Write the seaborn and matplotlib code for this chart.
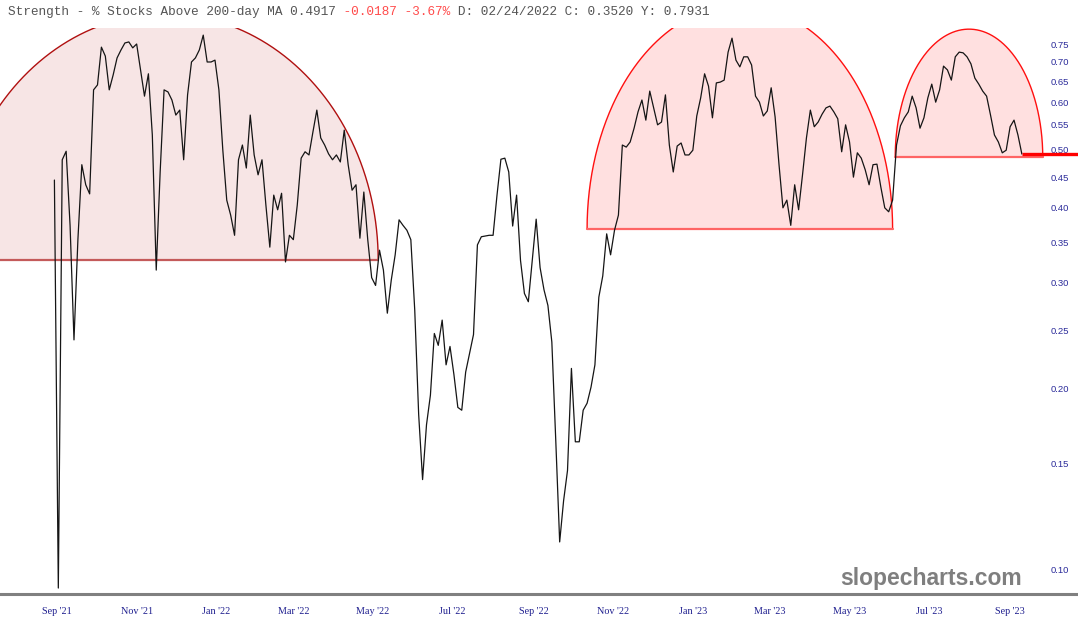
import matplotlib
matplotlib.use("Agg")
import matplotlib.pyplot as plt
import matplotlib.dates as mdates
from matplotlib.ticker import FixedLocator, FormatStrFormatter, NullLocator
import seaborn as sns
import numpy as np
import pandas as pd

# % of stocks above their 200-day MA, every 3 days from 2021-08-30
values = [
    0.445, 0.093, 0.481, 0.497, 0.374, 0.241, 0.354, 0.472, 0.437, 0.422,
    0.629, 0.641, 0.741, 0.716, 0.629, 0.666, 0.711, 0.733, 0.753, 0.756,
    0.739, 0.750, 0.679, 0.614, 0.669, 0.529, 0.315, 0.459, 0.629, 0.624,
    0.605, 0.571, 0.582, 0.481, 0.617, 0.700, 0.711, 0.733, 0.776, 0.700,
    0.700, 0.705, 0.629, 0.499, 0.412, 0.389, 0.360, 0.481, 0.509, 0.466,
    0.571, 0.490, 0.454, 0.481, 0.404, 0.344, 0.420, 0.397, 0.423, 0.325,
    0.360, 0.354, 0.404, 0.484, 0.496, 0.490, 0.535, 0.582, 0.523, 0.509,
    0.492, 0.481, 0.490, 0.477, 0.539, 0.472, 0.428, 0.437, 0.356, 0.425,
    0.354, 0.306, 0.297, 0.340, 0.315, 0.267, 0.303, 0.334, 0.382, 0.374,
    0.367, 0.354, 0.270, 0.181, 0.141, 0.174, 0.195, 0.247, 0.236, 0.260,
    0.219, 0.235, 0.211, 0.186, 0.184, 0.213, 0.229, 0.246, 0.347, 0.358,
    0.359, 0.360, 0.360, 0.420, 0.482, 0.484, 0.459, 0.373, 0.420, 0.327,
    0.288, 0.279, 0.327, 0.383, 0.318, 0.292, 0.275, 0.239, 0.164, 0.111,
    0.130, 0.146, 0.216, 0.163, 0.163, 0.184, 0.189, 0.201, 0.219, 0.284,
    0.308, 0.362, 0.334, 0.367, 0.389, 0.509, 0.505, 0.515, 0.543, 0.578,
    0.605, 0.560, 0.626, 0.587, 0.550, 0.556, 0.617, 0.509, 0.459, 0.507,
    0.513, 0.490, 0.490, 0.499, 0.569, 0.610, 0.669, 0.638, 0.565, 0.646,
    0.648, 0.653, 0.727, 0.767, 0.705, 0.687, 0.714, 0.714, 0.692, 0.614,
    0.600, 0.569, 0.580, 0.634, 0.567, 0.472, 0.400, 0.412, 0.374, 0.437,
    0.397, 0.454, 0.523, 0.582, 0.546, 0.556, 0.573, 0.587, 0.591, 0.578,
    0.563, 0.496, 0.550, 0.515, 0.450, 0.494, 0.484, 0.463, 0.437, 0.472,
    0.473, 0.433, 0.400, 0.394, 0.412, 0.509, 0.548, 0.565, 0.578, 0.614,
    0.587, 0.543, 0.565, 0.610, 0.643, 0.600, 0.629, 0.689, 0.679, 0.653,
    0.714, 0.727, 0.725, 0.714, 0.695, 0.658, 0.643, 0.626, 0.614, 0.571,
    0.529, 0.515, 0.494, 0.499, 0.546, 0.560, 0.529, 0.4917,
]
dates = pd.date_range("2021-08-30", periods=len(values), freq="3D")

# half-ellipse "domes": start, end, base level, crown level
arc_start = ["2021-06-13", "2022-10-12", "2023-06-05"]
arc_end = ["2022-05-05", "2023-06-03", "2023-09-26"]
arc_base = [0.327, 0.369, 0.486]
arc_peak = [0.842, 0.870, 0.794]
arc_edge = ["#b01010", "#ff1010", "#ff1010"]
arc_fill = [(0.72, 0.0, 0.0, 0.10), (1.0, 0.0, 0.0, 0.12), (1.0, 0.0, 0.0, 0.12)]
arc_baseline = ["#c45a5a", "#ff6464", "#ff6464"]

y_ticks = [0.10, 0.15, 0.20, 0.25, 0.30, 0.35, 0.40, 0.45, 0.50, 0.55, 0.60, 0.65, 0.70, 0.75]

title = "Strength - % Stocks Above 200-day MA 0.4917 -0.0187 -3.67% D: 02/24/2022 C: 0.3520 Y: 0.7931"
red_part = "-0.0187 -3.67%"

sns.set_theme(style="white")
fig = plt.figure(figsize=(10.78, 6.35), dpi=100)
ax = fig.add_axes([0, 41 / 635, 1, 566 / 635])

sns.lineplot(x=dates, y=values, color="#151515", lw=0.9, ax=ax, zorder=3)
ax.set_yscale("log")

# domes drawn as ellipses in screen space (log y -> geometric interpolation)
t = np.linspace(0, np.pi, 300)
for s, e, b, p, ec, fc, bc in zip(arc_start, arc_end, arc_base, arc_peak,
                                  arc_edge, arc_fill, arc_baseline):
    x0 = mdates.date2num(pd.Timestamp(s))
    x1 = mdates.date2num(pd.Timestamp(e))
    mid, half = (x0 + x1) / 2, (x1 - x0) / 2
    xs = mid + half * np.cos(t)
    ys = b * (p / b) ** np.sin(t)
    ax.fill(xs, ys, color=fc, lw=0, zorder=1)
    ax.plot(xs, ys, color=ec, lw=1.0, zorder=2)
    ax.plot([x0, x1], [b, b], color=bc, lw=1.6, zorder=2)

# last value marker line
x_right = mdates.date2num(pd.Timestamp("2023-10-23"))
ax.hlines(values[-1], mdates.date2num(dates[-1]), x_right, color="#ff0000", lw=2.4, zorder=4)

ax.set_xlim(mdates.date2num(pd.Timestamp("2021-07-19 08:00")), x_right)
ax.set_ylim(0.0909, 0.7975)

ax.xaxis.set_major_locator(mdates.MonthLocator(bymonth=[1, 3, 5, 7, 9, 11]))
ax.xaxis.set_major_formatter(mdates.DateFormatter("%b '%y"))
ax.yaxis.tick_right()
ax.yaxis.set_major_locator(FixedLocator(y_ticks))
ax.yaxis.set_minor_locator(NullLocator())
ax.yaxis.set_major_formatter(FormatStrFormatter("%.2f"))
ax.tick_params(axis="x", length=0, pad=9, labelsize=7.3, labelcolor="#1f1f8f")
ax.tick_params(axis="y", length=0, pad=-20, labelsize=6.8, labelcolor="#2b2b9a")
for lab in ax.get_xticklabels():
    lab.set_family("Liberation Serif")
for lab in ax.get_yticklabels():
    lab.set_family("Liberation Sans")
    lab.set_horizontalalignment("left")
ax.set_xlabel("")
ax.set_ylabel("")
ax.grid(False)
for side in ["top", "left", "right"]:
    ax.spines[side].set_visible(False)
ax.spines["bottom"].set_color("#808080")
ax.spines["bottom"].set_linewidth(2.2)

# header: monospace, so the red piece lines up by padding with spaces
i = title.index(red_part)
gray_str = title[:i] + " " * len(red_part) + title[i + len(red_part):]
red_str = " " * i + red_part + " " * (len(title) - i - len(red_part))
for txt, col in [(gray_str, "#555555"), (red_str, "#ff4b4b")]:
    fig.text(8 / 1078, 1 - 12 / 635, txt, ha="left", va="center", fontsize=9.2,
             family="Liberation Mono", color=col)

fig.text(1022 / 1078, 1 - 578 / 635, "slopecharts.com", ha="right", va="center",
         fontsize=16.5, fontweight="bold", family="Liberation Sans", color="#7f7f7f")

plt.savefig("out.png", dpi=100)
